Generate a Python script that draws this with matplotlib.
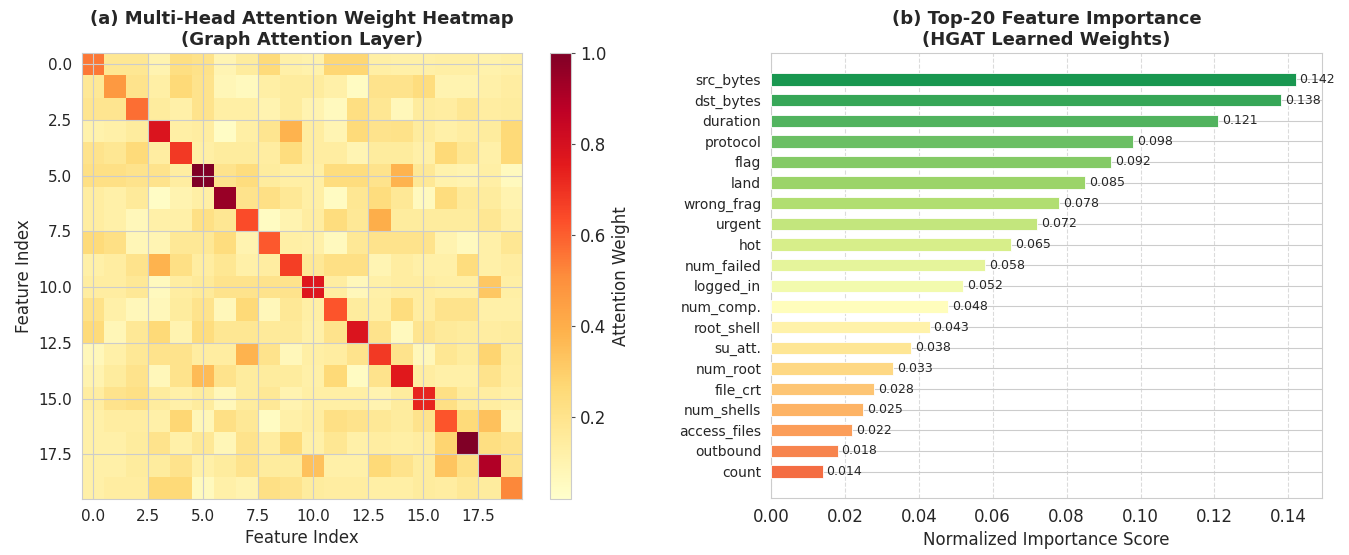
import numpy as np
import matplotlib
matplotlib.use("Agg")
import matplotlib.pyplot as plt
import seaborn as sns

sns.set_style("whitegrid")
plt.rcParams["font.family"] = ["DejaVu Sans"]

# attention weights between the 20 input features (row = query, col = key)
attention_weights = [
    [0.55, 0.18, 0.18, 0.10, 0.23, 0.21, 0.09, 0.15, 0.25, 0.12, 0.11, 0.27, 0.27, 0.13, 0.12, 0.12, 0.13, 0.13, 0.11, 0.12],
    [0.17, 0.47, 0.20, 0.13, 0.26, 0.20, 0.08, 0.06, 0.13, 0.15, 0.15, 0.12, 0.05, 0.20, 0.20, 0.24, 0.10, 0.10, 0.12, 0.14],
    [0.19, 0.19, 0.57, 0.15, 0.12, 0.20, 0.13, 0.13, 0.10, 0.15, 0.10, 0.06, 0.23, 0.18, 0.07, 0.15, 0.14, 0.18, 0.14, 0.15],
    [0.11, 0.12, 0.15, 0.78, 0.13, 0.14, 0.04, 0.13, 0.19, 0.38, 0.14, 0.09, 0.25, 0.20, 0.21, 0.15, 0.12, 0.14, 0.15, 0.26],
    [0.20, 0.18, 0.25, 0.14, 0.68, 0.13, 0.15, 0.15, 0.14, 0.24, 0.14, 0.14, 0.09, 0.15, 0.15, 0.12, 0.26, 0.18, 0.12, 0.26],
    [0.22, 0.22, 0.20, 0.20, 0.14, 1.00, 0.20, 0.24, 0.15, 0.13, 0.13, 0.24, 0.24, 0.20, 0.38, 0.17, 0.11, 0.10, 0.13, 0.06],
    [0.14, 0.12, 0.16, 0.04, 0.10, 0.13, 0.95, 0.20, 0.22, 0.17, 0.13, 0.05, 0.18, 0.24, 0.17, 0.06, 0.24, 0.16, 0.15, 0.10],
    [0.14, 0.12, 0.07, 0.12, 0.12, 0.22, 0.18, 0.64, 0.05, 0.10, 0.14, 0.24, 0.17, 0.40, 0.15, 0.15, 0.15, 0.15, 0.18, 0.12],
    [0.25, 0.22, 0.08, 0.09, 0.17, 0.17, 0.24, 0.10, 0.61, 0.13, 0.12, 0.06, 0.17, 0.20, 0.20, 0.20, 0.10, 0.06, 0.12, 0.18],
    [0.12, 0.14, 0.20, 0.38, 0.22, 0.14, 0.18, 0.12, 0.14, 0.67, 0.17, 0.22, 0.22, 0.09, 0.14, 0.12, 0.12, 0.24, 0.12, 0.14],
    [0.14, 0.14, 0.17, 0.06, 0.14, 0.16, 0.20, 0.20, 0.20, 0.20, 0.77, 0.14, 0.07, 0.12, 0.14, 0.14, 0.13, 0.13, 0.32, 0.13],
    [0.21, 0.12, 0.07, 0.07, 0.15, 0.20, 0.07, 0.26, 0.07, 0.17, 0.13, 0.62, 0.15, 0.13, 0.24, 0.14, 0.20, 0.20, 0.12, 0.12],
    [0.25, 0.08, 0.17, 0.26, 0.10, 0.24, 0.18, 0.18, 0.16, 0.16, 0.12, 0.20, 0.78, 0.20, 0.06, 0.19, 0.16, 0.15, 0.14, 0.15],
    [0.07, 0.12, 0.17, 0.20, 0.20, 0.14, 0.14, 0.38, 0.20, 0.07, 0.13, 0.14, 0.20, 0.68, 0.20, 0.07, 0.18, 0.15, 0.28, 0.15],
    [0.10, 0.15, 0.20, 0.07, 0.20, 0.36, 0.20, 0.15, 0.15, 0.15, 0.12, 0.26, 0.05, 0.20, 0.76, 0.14, 0.12, 0.12, 0.20, 0.14],
    [0.14, 0.20, 0.22, 0.15, 0.12, 0.15, 0.07, 0.15, 0.17, 0.10, 0.13, 0.13, 0.13, 0.10, 0.15, 0.73, 0.22, 0.15, 0.14, 0.12],
    [0.12, 0.14, 0.14, 0.12, 0.27, 0.08, 0.22, 0.17, 0.05, 0.12, 0.14, 0.22, 0.20, 0.17, 0.15, 0.20, 0.62, 0.25, 0.34, 0.09],
    [0.12, 0.12, 0.15, 0.20, 0.12, 0.17, 0.08, 0.20, 0.14, 0.25, 0.12, 0.18, 0.12, 0.14, 0.13, 0.14, 0.28, 1.00, 0.23, 0.20],
    [0.12, 0.12, 0.15, 0.15, 0.20, 0.12, 0.15, 0.20, 0.15, 0.15, 0.34, 0.12, 0.12, 0.26, 0.20, 0.15, 0.33, 0.22, 0.90, 0.20],
    [0.12, 0.14, 0.14, 0.26, 0.26, 0.06, 0.12, 0.10, 0.22, 0.20, 0.15, 0.14, 0.14, 0.13, 0.13, 0.15, 0.14, 0.17, 0.15, 0.52],
]

# learned feature importance, highest first
feature_names = ["src_bytes", "dst_bytes", "duration", "protocol", "flag", "land",
                 "wrong_frag", "urgent", "hot", "num_failed", "logged_in", "num_comp.",
                 "root_shell", "su_att.", "num_root", "file_crt", "num_shells",
                 "access_files", "outbound", "count"]
importance = [0.142, 0.138, 0.121, 0.098, 0.092, 0.085, 0.078, 0.072, 0.065, 0.058,
              0.052, 0.048, 0.043, 0.038, 0.033, 0.028, 0.025, 0.022, 0.018, 0.014]

W, H = 1349, 555
fig = plt.figure(figsize=(W / 100, H / 100), dpi=100)

# --- (a) attention heatmap ---
ax1 = fig.add_axes([81.7 / W, 1 - 499 / H, 440 / W, 446 / H])
cax = fig.add_axes([550 / W, 1 - 499 / H, 21 / W, 446 / H])

im = ax1.imshow(np.array(attention_weights), cmap="YlOrRd", aspect="auto",
                vmin=0.02, vmax=1.0)
ax1.set_title("(a) Multi-Head Attention Weight Heatmap\n(Graph Attention Layer)",
              fontsize=13, fontweight="bold")
ax1.set_xlabel("Feature Index", fontsize=12)
ax1.set_ylabel("Feature Index", fontsize=12)
ax1.tick_params(labelsize=11)

cbar = fig.colorbar(im, cax=cax)
cbar.set_label("Attention Weight", fontsize=12)
cbar.ax.tick_params(labelsize=12, length=3, color="0.3")
cbar.outline.set_edgecolor("0.8")

# --- (b) feature importance bars ---
ax2 = fig.add_axes([771 / W, 1 - 498 / H, 551 / W, 445 / H])
colors = plt.cm.RdYlGn(np.linspace(0.9, 0.2, len(importance)))
y = np.arange(len(importance))
ax2.barh(y, importance, height=0.6, color=colors, edgecolor="white",
         linewidth=0.6, zorder=3)
for yi, v in zip(y, importance):
    ax2.text(v + 0.001, yi, f"{v:.3f}", va="center", fontsize=9, zorder=4)

ax2.set_yticks(y)
ax2.set_yticklabels(feature_names, fontsize=10)
ax2.invert_yaxis()
ax2.set_xlim(0, max(importance) * 1.05)
ax2.tick_params(axis="x", labelsize=12)
ax2.grid(axis="x", linestyle="--", alpha=0.7)
ax2.set_xlabel("Normalized Importance Score", fontsize=12)
ax2.set_title("(b) Top-20 Feature Importance\n(HGAT Learned Weights)",
              fontsize=13, fontweight="bold")

fig.savefig("out.png", dpi=100)
